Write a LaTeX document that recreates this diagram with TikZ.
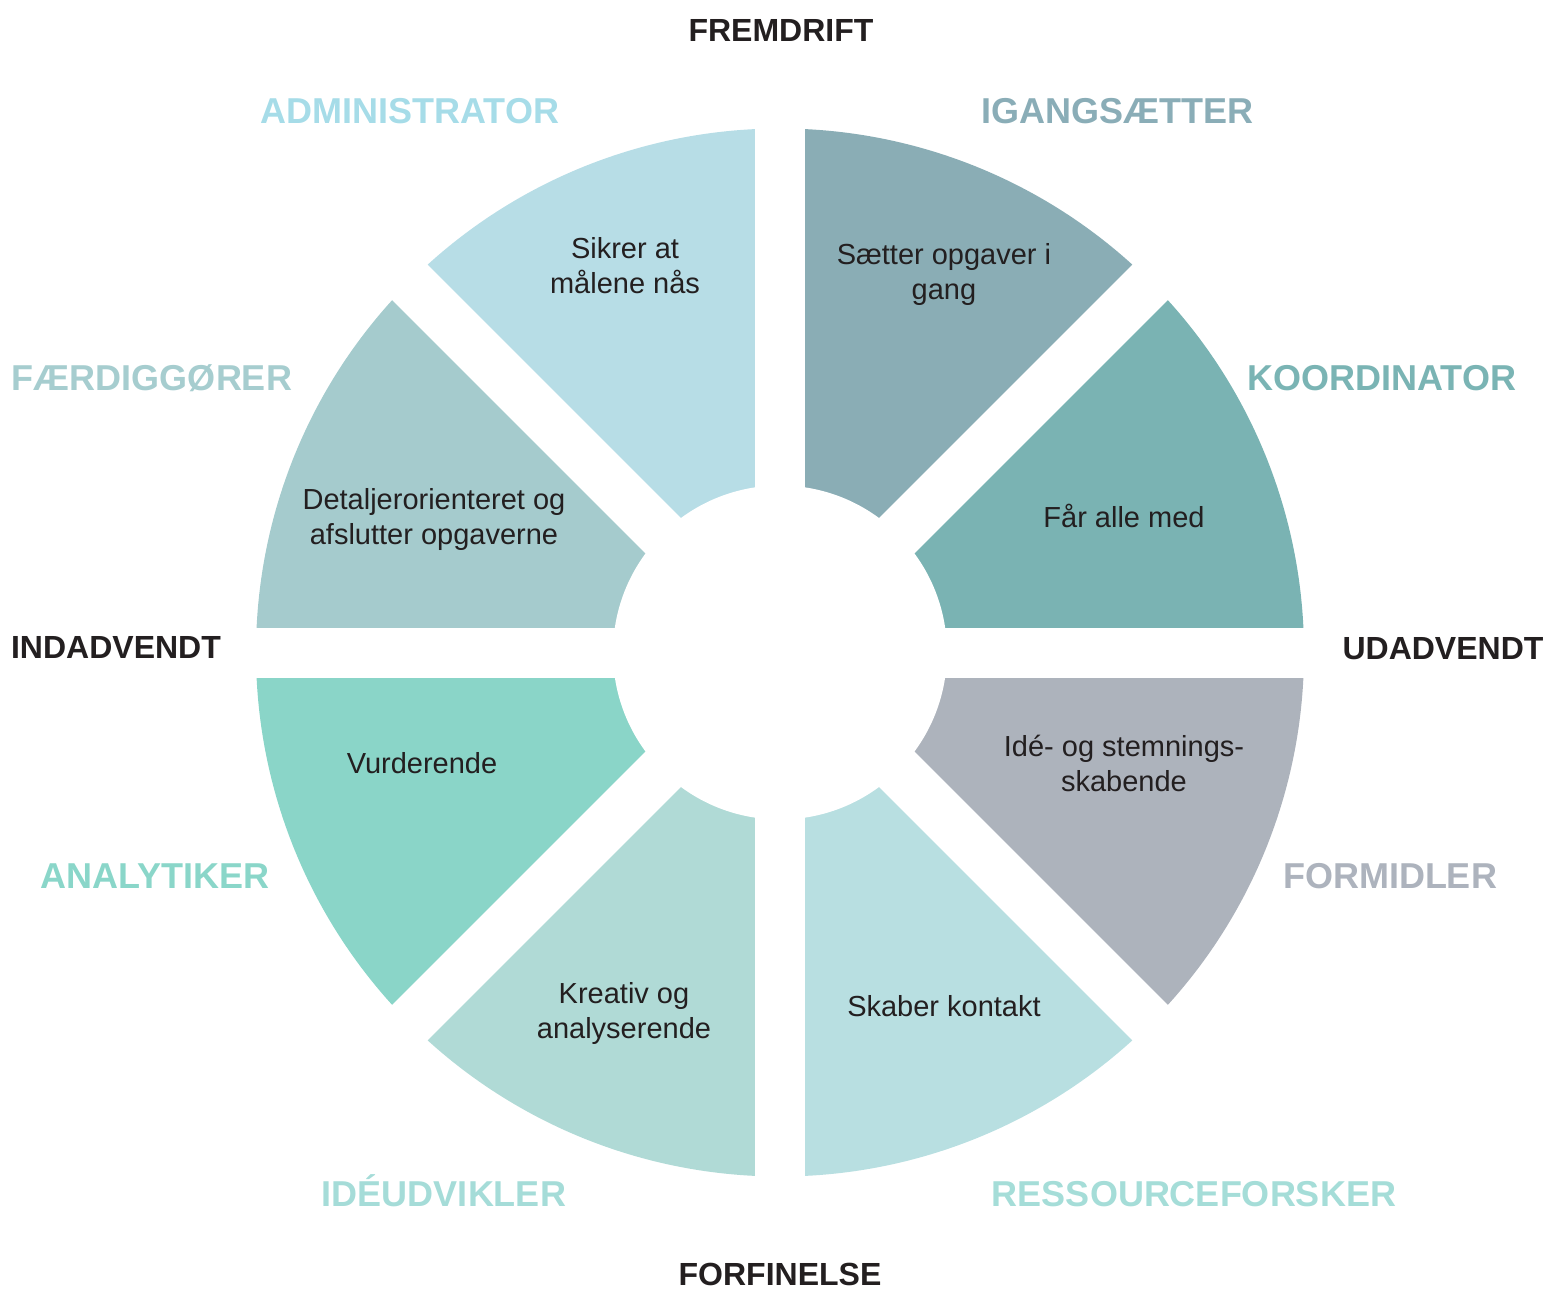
\documentclass[tikz,border=0pt]{standalone}
\usepackage{fontspec}
\setmainfont{Liberation Sans}
\definecolor{cKoo}{HTML}{7AB3B3}
\definecolor{cIga}{HTML}{8AADB5}
\definecolor{cAdm}{HTML}{B7DDE6}
\definecolor{cFae}{HTML}{A5CBCD}
\definecolor{cAna}{HTML}{8AD5C8}
\definecolor{cIde}{HTML}{B0DAD6}
\definecolor{cRes}{HTML}{B8DFE1}
\definecolor{cFor}{HTML}{ADB3BC}
\definecolor{lAdm}{HTML}{A6DCE8}
\definecolor{lIga}{HTML}{8AADB7}
\definecolor{lFae}{HTML}{A6CDCF}
\definecolor{lKoo}{HTML}{7AB4B4}
\definecolor{lAna}{HTML}{8AD6C9}
\definecolor{lFor}{HTML}{ADB3BD}
\definecolor{lIde}{HTML}{A5DCD8}
\definecolor{lRes}{HTML}{A5DDD8}
\definecolor{ink}{HTML}{231F20}
\tikzset{
  bodytext/.style={inner sep=0pt, anchor=base, align=center, text=ink,
    font=\fontsize{29}{35}\selectfont},
  rolelabel/.style={inner sep=0pt, anchor=base, font=\bfseries\fontsize{36}{40}\selectfont},
  axislabel/.style={inner sep=0pt, anchor=base, text=ink, font=\bfseries\fontsize{32}{36}\selectfont},
}
\begin{document}
\begin{tikzpicture}[x=1pt,y=1pt]
\useasboundingbox (-780,-641.5) rectangle (772,652.5);
% sectors
\foreach \a/\c in {0/cKoo,45/cIga,90/cAdm,135/cFae,180/cAna,225/cIde,270/cRes,315/cFor}{
  \fill[\c] (0,0) -- (\a:524pt) arc[start angle=\a, end angle=\a+45, radius=524pt] -- cycle;
}
% gaps
\foreach \a in {0,45,90,135}{
  \draw[white, line width=50pt] (\a:545pt) -- (\a+180:545pt);
}
\fill[white] (0,0) circle[radius=167pt];
% body texts (base anchor = baseline of last line)
\node[bodytext] (tadm) at (-155,358.5) {Sikrer at\\målene nås};
\node[bodytext] (tiga) at (164,352.5) {Sætter opgaver i\\gang};
\node[bodytext] (tkoo) at (344,125.5) {Får alle med};
\node[bodytext] (tfor) at (344,-138.5) {Idé- og stemnings-\\skabende};
\node[bodytext] (tres) at (164,-363.5) {Skaber kontakt};
\node[bodytext] (tide) at (-156,-385.5) {Kreativ og\\analyserende};
\node[bodytext] (tana) at (-358,-120.5) {Vurderende};
\node[bodytext] (tfae) at (-346,108) {Detaljerorienteret og\\afslutter opgaverne};
% role labels
\node[rolelabel, text=lAdm] (ladm) at (-370,528.5) {ADMINISTRATOR};
\node[rolelabel, text=lIga] (liga) at (337,528.5) {IGANGSÆTTER};
\node[rolelabel, text=lFae] (lfae) at (-628,262.5) {FÆRDIGGØRER};
\node[rolelabel, text=lKoo] (lkoo) at (602,262.5) {KOORDINATOR};
\node[rolelabel, text=lAna] (lana) at (-625,-235.5) {ANALYTIKER};
\node[rolelabel, text=lFor] (lfor) at (610,-235.5) {FORMIDLER};
\node[rolelabel, text=lIde] (lide) at (-336,-553.5) {IDÉUDVIKLER};
\node[rolelabel, text=lRes] (lres) at (414,-553.5) {RESSOURCEFORSKER};
% axis labels
\node[axislabel] (fremdrift) at (1,611) {FREMDRIFT};
\node[axislabel] (indadvendt) at (-664,-6) {INDADVENDT};
\node[axislabel] (udadvendt) at (663,-7) {UDADVENDT};
\node[axislabel] (forfinelse) at (0,-633) {FORFINELSE};
\end{tikzpicture}
\end{document}
